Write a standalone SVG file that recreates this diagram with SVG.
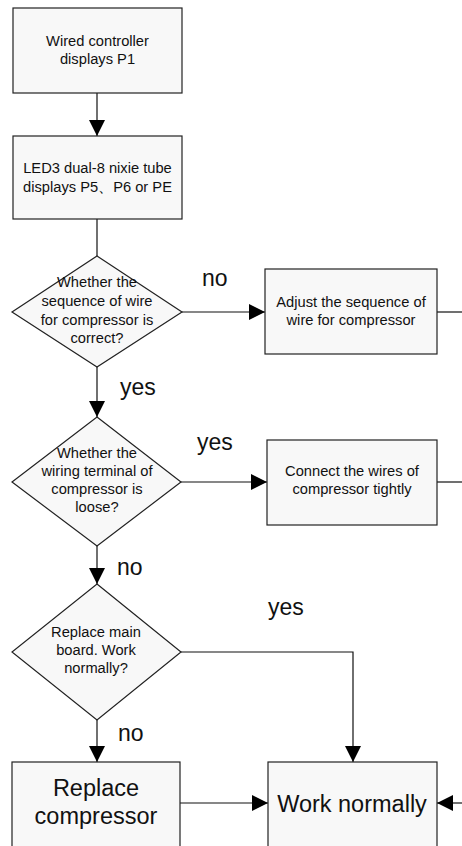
<svg xmlns="http://www.w3.org/2000/svg" width="462" height="846" viewBox="0 0 462 846">
<style>
.box{fill:#f8f8f8;stroke:#222;stroke-width:1.2}
.t{font-family:"Liberation Sans",Arial,sans-serif;font-size:14.7px;fill:#111;text-anchor:middle}
.big{font-family:"Liberation Sans",Arial,sans-serif;font-size:23.5px;fill:#111;text-anchor:middle}
.lbl{font-family:"Liberation Sans",Arial,sans-serif;font-size:23px;fill:#111}
.ln{fill:none;stroke:#111;stroke-width:1.2}
</style>
<defs>
<marker id="ah" markerUnits="userSpaceOnUse" markerWidth="17" markerHeight="17" refX="16" refY="8" orient="auto">
<path d="M0,0 L16,8 L0,16 z" fill="#000"/>
</marker>
</defs>
<g id="connectors">
<line class="ln" x1="97" y1="93" x2="97" y2="136" marker-end="url(#ah)"/>
<line class="ln" x1="97" y1="219" x2="97" y2="256"/>
<line class="ln" x1="182" y1="312" x2="265" y2="312" marker-end="url(#ah)"/>
<line class="ln" x1="437" y1="312" x2="462" y2="312"/>
<line class="ln" x1="97" y1="367" x2="97" y2="417" marker-end="url(#ah)"/>
<line class="ln" x1="181" y1="482" x2="267" y2="482" marker-end="url(#ah)"/>
<line class="ln" x1="437" y1="482" x2="462" y2="482"/>
<line class="ln" x1="97" y1="546" x2="97" y2="584" marker-end="url(#ah)"/>
<polyline class="ln" points="181,652 353,652 353,762" marker-end="url(#ah)"/>
<line class="ln" x1="97" y1="720" x2="97" y2="762" marker-end="url(#ah)"/>
<line class="ln" x1="180" y1="803" x2="268" y2="803" marker-end="url(#ah)"/>
<line class="ln" x1="462" y1="803" x2="437" y2="803" marker-end="url(#ah)"/>
</g>
<g id="labels">
<text class="lbl" x="202" y="286">no</text>
<text class="lbl" x="120" y="395">yes</text>
<text class="lbl" x="197" y="450">yes</text>
<text class="lbl" x="117" y="575">no</text>
<text class="lbl" x="268" y="615">yes</text>
<text class="lbl" x="118" y="741">no</text>
</g>
<g id="n1">
<rect class="box" x="13" y="8" width="169" height="85"/>
<text class="t" x="97.5" y="46">Wired controller</text>
<text class="t" x="97.5" y="64">displays P1</text>
</g>
<g id="n2">
<rect class="box" x="13" y="136" width="169" height="83"/>
<text class="t" x="97.5" y="173">LED3 dual-8 nixie tube</text>
<text class="t" x="97.5" y="192">displays P5、P6 or PE</text>
</g>
<g id="d1">
<polygon class="box" points="97,256 182,312 97,367 12,312"/>
<text class="t" x="97" y="287">Whether the</text>
<text class="t" x="97" y="306">sequence of wire</text>
<text class="t" x="97" y="325">for compressor is</text>
<text class="t" x="97" y="343">correct?</text>
</g>
<g id="n3">
<rect class="box" x="265" y="269" width="172" height="85"/>
<text class="t" x="351" y="307">Adjust the sequence of</text>
<text class="t" x="351" y="325">wire for compressor</text>
</g>
<g id="d2">
<polygon class="box" points="97,417 181,482 97,546 12,482"/>
<text class="t" x="97" y="458">Whether the</text>
<text class="t" x="97" y="476">wiring terminal of</text>
<text class="t" x="97" y="494">compressor is</text>
<text class="t" x="97" y="512">loose?</text>
</g>
<g id="n4">
<rect class="box" x="267" y="440" width="170" height="85"/>
<text class="t" x="352" y="476">Connect the wires of</text>
<text class="t" x="352" y="494">compressor tightly</text>
</g>
<g id="d3">
<polygon class="box" points="97,584 181,652 97,720 12,652"/>
<text class="t" x="96" y="637">Replace main</text>
<text class="t" x="96" y="655">board. Work</text>
<text class="t" x="96" y="673">normally?</text>
</g>
<g id="n5">
<rect class="box" x="12" y="762" width="168" height="90"/>
<text class="big" x="96" y="796">Replace</text>
<text class="big" x="96" y="824">compressor</text>
</g>
<g id="n6">
<rect class="box" x="268" y="762" width="169" height="90"/>
<text class="big" x="352" y="812">Work normally</text>
</g>
</svg>
